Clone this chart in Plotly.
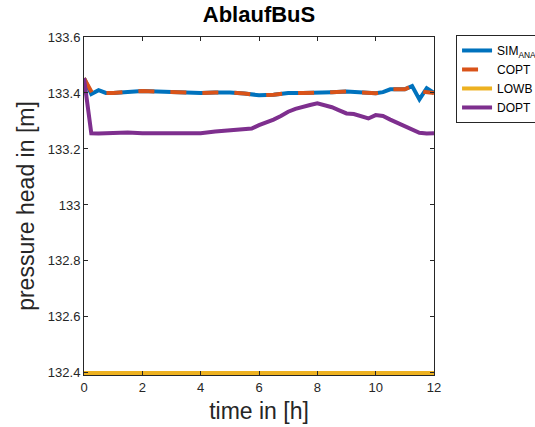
import plotly.graph_objects as go

# ---- data ----
t_sim = [0, 0.25, 0.5, 0.75, 1, 1.5, 2, 2.5, 3, 3.5, 4, 4.5, 5, 5.5, 6, 6.5, 7, 7.5, 8,
         8.5, 9, 9.5, 10, 10.25, 10.5, 11, 11.25, 11.5, 11.75, 12]
v_sim = [133.453, 133.396, 133.41, 133.40, 133.40, 133.404, 133.407, 133.405, 133.403,
         133.401, 133.40, 133.402, 133.402, 133.398, 133.392, 133.394, 133.40, 133.40,
         133.40, 133.403, 133.405, 133.401, 133.399, 133.403, 133.413, 133.413, 133.425,
         133.377, 133.417, 133.40]

t_copt = [0, 0.3, 0.5, 0.75, 1, 1.5, 2, 2.5, 3, 3.5, 4, 4.5, 5, 5.5, 6, 6.5, 7, 7.5, 8,
          8.5, 9, 9.5, 10, 10.25, 10.5, 11, 11.25, 11.6, 12]
v_copt = [133.453, 133.396, 133.40, 133.40, 133.40, 133.404, 133.407, 133.405, 133.403,
          133.401, 133.40, 133.402, 133.402, 133.398, 133.392, 133.394, 133.40, 133.40,
          133.40, 133.403, 133.405, 133.401, 133.399, 133.403, 133.413, 133.413, 133.425,
          133.405, 133.40]

t_lowb = [0, 12]
v_lowb = [132.4, 132.4]

t_dopt = [0, 0.25, 0.5, 1, 1.5, 2, 2.5, 3, 3.5, 4, 4.5, 5, 5.5, 5.75, 6, 6.25, 6.5, 6.75,
          7, 7.25, 7.5, 7.75, 8, 8.25, 8.5, 8.75, 9, 9.25, 9.5, 9.75, 10, 10.25, 10.5,
          10.75, 11, 11.25, 11.5, 11.75, 12]
v_dopt = [133.453, 133.256, 133.255, 133.257, 133.259, 133.256, 133.256, 133.254, 133.255,
          133.256, 133.262, 133.266, 133.268, 133.273, 133.285, 133.294, 133.305, 133.318,
          133.333, 133.343, 133.351, 133.357, 133.363, 133.356, 133.349, 133.338, 133.327,
          133.325, 133.318, 133.309, 133.321, 133.318, 133.305, 133.294, 133.283, 133.272,
          133.258, 133.255, 133.256]

x_ticks = [0, 2, 4, 6, 8, 10, 12]
y_ticks = [132.4, 132.6, 132.8, 133.0, 133.2, 133.4, 133.6]
y_ticktext = ["132.4", "132.6", "132.8", "133", "133.2", "133.4", "133.6"]

fig = go.Figure()
fig.add_trace(go.Scatter(x=t_sim, y=v_sim, mode="lines", name="SIM<sub>ANA</sub>",
                         line=dict(color="#0072BD", width=4)))
fig.add_trace(go.Scatter(x=t_copt, y=v_copt, mode="lines", name="COPT",
                         line=dict(color="#D95319", width=4, dash="16px,16px")))
fig.add_trace(go.Scatter(x=t_lowb, y=v_lowb, mode="lines", name="LOWB",
                         line=dict(color="#EDB120", width=4)))
fig.add_trace(go.Scatter(x=t_dopt, y=v_dopt, mode="lines", name="DOPT",
                         line=dict(color="#7E2F8E", width=4)))

axis_common = dict(showgrid=False, zeroline=False, showline=True, linecolor="#262626",
                   linewidth=1, mirror="ticks", ticks="inside", ticklen=4,
                   tickcolor="#262626", tickfont=dict(size=13, color="#262626"))

fig.update_layout(
    width=535, height=427,
    margin=dict(l=84, r=101, t=37, b=52, autoexpand=False),
    paper_bgcolor="white", plot_bgcolor="white",
    font=dict(family="Liberation Sans, Arial", color="#262626"),
    title=dict(text="<b>AblaufBuS</b>", x=(259 / 535), xanchor="center",
               y=1 - 14 / 427, yanchor="middle", font=dict(size=22, color="black")),
    xaxis=dict(range=[0, 12], tickvals=x_ticks,
               title=dict(text="time in [h]", font=dict(size=23), standoff=9),
               **axis_common),
    yaxis=dict(range=[132.3925, 133.6], tickvals=y_ticks, ticktext=y_ticktext,
               title=dict(text="pressure head in [m]", font=dict(size=23), standoff=6),
               **axis_common),
    legend=dict(x=1.063, y=1.006, xanchor="left", yanchor="top",
                bordercolor="#262626", borderwidth=1, bgcolor="white",
                font=dict(size=12, color="black"), itemwidth=30, tracegroupgap=0),
    showlegend=True,
)

fig.write_html("out.html")
